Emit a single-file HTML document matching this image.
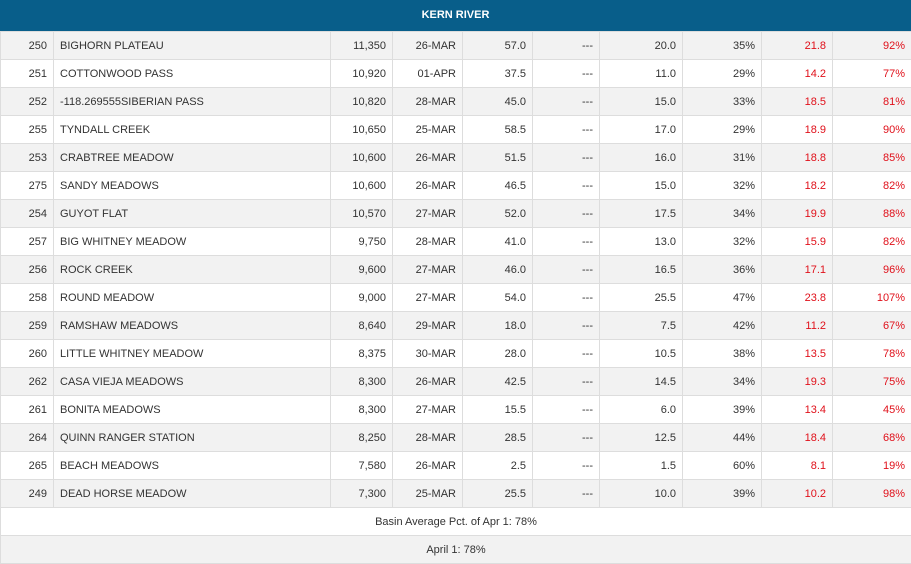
<!DOCTYPE html>
<html><head><style>
body{margin:0;width:911px;height:559px;overflow:hidden;background:#fff;font-family:"Liberation Sans",sans-serif;font-size:11px;color:#333}
table{border-collapse:collapse;width:911px;table-layout:fixed}
td{height:27px;border:1px solid #ddd;padding:0 6px;text-align:right;white-space:nowrap;overflow:hidden}
td.n{text-align:left}
tr:nth-child(odd) td{background:#f2f2f2}
tr:nth-child(even) td{background:#fff}
.r{color:#e0101a}
.hd{background:#085e8a;color:#fff;font-weight:bold;text-align:center;height:31px;font-size:11px}
.c{text-align:center}
</style></head><body>
<div class="hd" style="line-height:30px">KERN RIVER</div>
<table>
<colgroup><col style="width:53px"><col style="width:277px"><col style="width:62px"><col style="width:70px"><col style="width:70px"><col style="width:67px"><col style="width:83px"><col style="width:79px"><col style="width:71px"><col style="width:79px"></colgroup>
<tr><td>250</td><td class="n">BIGHORN PLATEAU</td><td>11,350</td><td>26-MAR</td><td>57.0</td><td>---</td><td>20.0</td><td>35%</td><td class="r">21.8</td><td class="r">92%</td></tr>
<tr><td>251</td><td class="n">COTTONWOOD PASS</td><td>10,920</td><td>01-APR</td><td>37.5</td><td>---</td><td>11.0</td><td>29%</td><td class="r">14.2</td><td class="r">77%</td></tr>
<tr><td>252</td><td class="n">-118.269555SIBERIAN PASS</td><td>10,820</td><td>28-MAR</td><td>45.0</td><td>---</td><td>15.0</td><td>33%</td><td class="r">18.5</td><td class="r">81%</td></tr>
<tr><td>255</td><td class="n">TYNDALL CREEK</td><td>10,650</td><td>25-MAR</td><td>58.5</td><td>---</td><td>17.0</td><td>29%</td><td class="r">18.9</td><td class="r">90%</td></tr>
<tr><td>253</td><td class="n">CRABTREE MEADOW</td><td>10,600</td><td>26-MAR</td><td>51.5</td><td>---</td><td>16.0</td><td>31%</td><td class="r">18.8</td><td class="r">85%</td></tr>
<tr><td>275</td><td class="n">SANDY MEADOWS</td><td>10,600</td><td>26-MAR</td><td>46.5</td><td>---</td><td>15.0</td><td>32%</td><td class="r">18.2</td><td class="r">82%</td></tr>
<tr><td>254</td><td class="n">GUYOT FLAT</td><td>10,570</td><td>27-MAR</td><td>52.0</td><td>---</td><td>17.5</td><td>34%</td><td class="r">19.9</td><td class="r">88%</td></tr>
<tr><td>257</td><td class="n">BIG WHITNEY MEADOW</td><td>9,750</td><td>28-MAR</td><td>41.0</td><td>---</td><td>13.0</td><td>32%</td><td class="r">15.9</td><td class="r">82%</td></tr>
<tr><td>256</td><td class="n">ROCK CREEK</td><td>9,600</td><td>27-MAR</td><td>46.0</td><td>---</td><td>16.5</td><td>36%</td><td class="r">17.1</td><td class="r">96%</td></tr>
<tr><td>258</td><td class="n">ROUND MEADOW</td><td>9,000</td><td>27-MAR</td><td>54.0</td><td>---</td><td>25.5</td><td>47%</td><td class="r">23.8</td><td class="r">107%</td></tr>
<tr><td>259</td><td class="n">RAMSHAW MEADOWS</td><td>8,640</td><td>29-MAR</td><td>18.0</td><td>---</td><td>7.5</td><td>42%</td><td class="r">11.2</td><td class="r">67%</td></tr>
<tr><td>260</td><td class="n">LITTLE WHITNEY MEADOW</td><td>8,375</td><td>30-MAR</td><td>28.0</td><td>---</td><td>10.5</td><td>38%</td><td class="r">13.5</td><td class="r">78%</td></tr>
<tr><td>262</td><td class="n">CASA VIEJA MEADOWS</td><td>8,300</td><td>26-MAR</td><td>42.5</td><td>---</td><td>14.5</td><td>34%</td><td class="r">19.3</td><td class="r">75%</td></tr>
<tr><td>261</td><td class="n">BONITA MEADOWS</td><td>8,300</td><td>27-MAR</td><td>15.5</td><td>---</td><td>6.0</td><td>39%</td><td class="r">13.4</td><td class="r">45%</td></tr>
<tr><td>264</td><td class="n">QUINN RANGER STATION</td><td>8,250</td><td>28-MAR</td><td>28.5</td><td>---</td><td>12.5</td><td>44%</td><td class="r">18.4</td><td class="r">68%</td></tr>
<tr><td>265</td><td class="n">BEACH MEADOWS</td><td>7,580</td><td>26-MAR</td><td>2.5</td><td>---</td><td>1.5</td><td>60%</td><td class="r">8.1</td><td class="r">19%</td></tr>
<tr><td>249</td><td class="n">DEAD HORSE MEADOW</td><td>7,300</td><td>25-MAR</td><td>25.5</td><td>---</td><td>10.0</td><td>39%</td><td class="r">10.2</td><td class="r">98%</td></tr>
<tr><td colspan="10" class="c">Basin Average Pct. of Apr 1: 78%</td></tr>
<tr><td colspan="10" class="c">April 1: 78%</td></tr>
</table>
</body></html>
